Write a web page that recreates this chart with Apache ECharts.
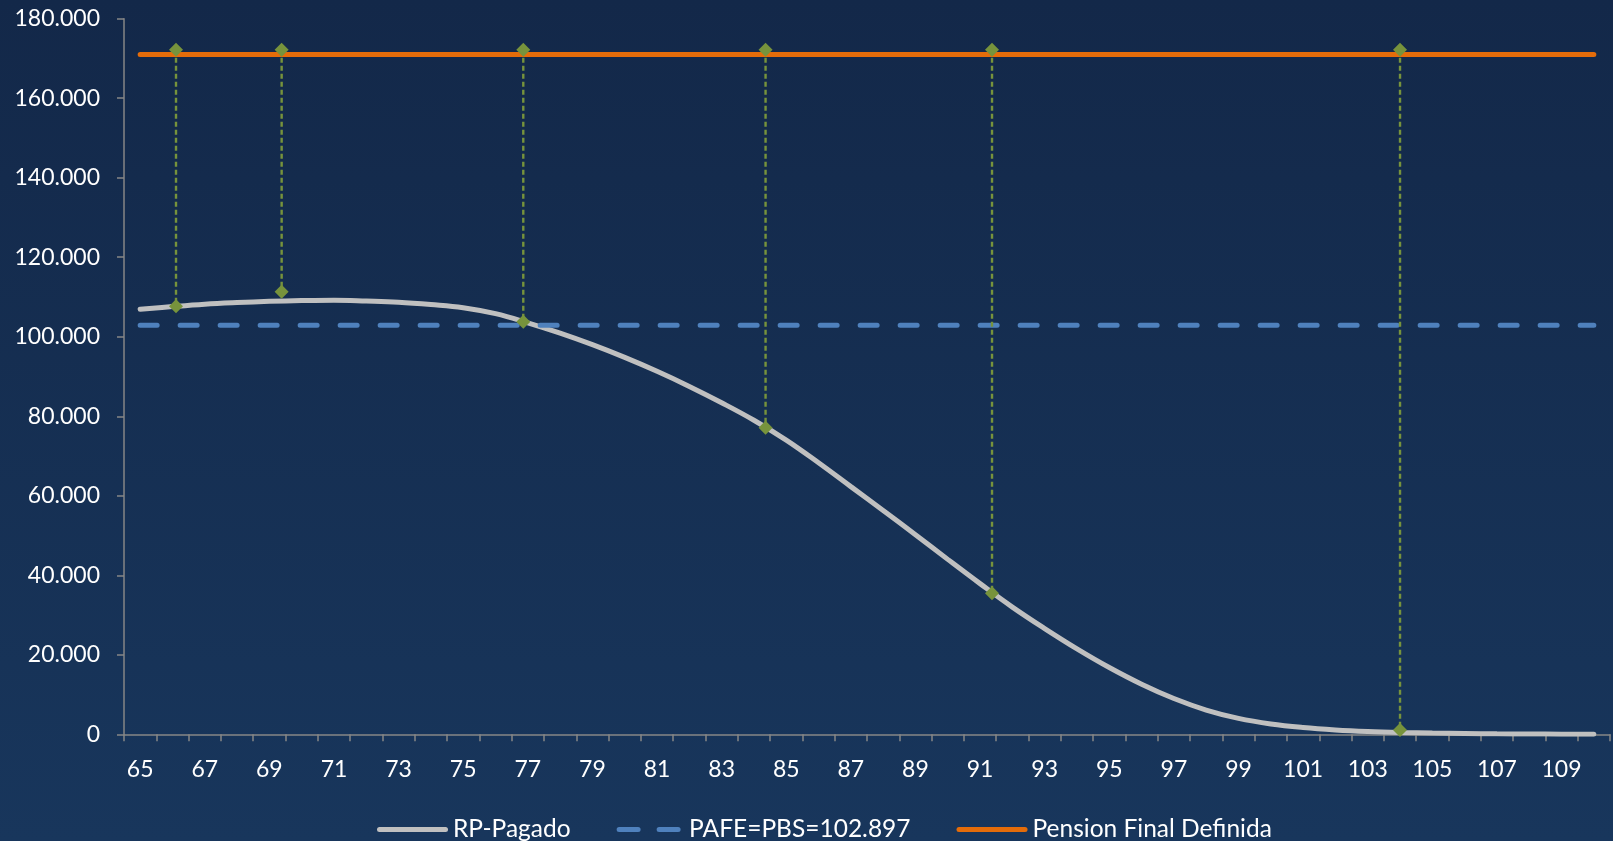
<!DOCTYPE html>
<html>
<head>
<meta charset="utf-8">
<script src="https://cdn.jsdelivr.net/npm/echarts@6/dist/echarts.min.js"></script>
<style>
  html, body { margin: 0; padding: 0; background: #14294b; }
  #chart { width: 1613px; height: 841px; }
</style>
</head>
<body>
<div id="chart"></div>
<script>
// Ages (category axis)
const ages = ['65','66','67','68','69','70','71','72','73','74','75','76','77','78','79','80',
  '81','82','83','84','85','86','87','88','89','90','91','92','93','94','95','96','97','98',
  '99','100','101','102','103','104','105','106','107','108','109','110'];

// RP-Pagado curve, one value per age
const rpPagado = [106900,107600,108200,108600,108900,109100,109200,109000,108700,108100,
  107300,105800,103500,100900,98000,94800,91300,87500,83400,79000,74000,68300,62300,56300,
  50200,44000,37900,32000,26600,21500,16800,12600,9000,6100,4000,2600,1700,1100,700,450,
  300,200,120,70,40,20];

// Flat reference levels
const pafeValue = 102897;
const pensionFinal = 171000;

// Marker drop lines: age position, top value, bottom value
const markerAges = [66.11, 69.38, 76.86, 84.36, 91.37, 104.0];
const markerTop = [172200, 172200, 172200, 172200, 172200, 172200];
const markerBottom = [107700, 111300, 103800, 77100, 35500, 1100];

// Y axis range
const yMin = 0, yMax = 180000, yStep = 20000;

function fmtThousands(v) {
  return String(Math.round(v)).replace(/\B(?=(\d{3})+(?!\d))/g, '.');
}

const FONT = 'Lato, "Open Sans", "Noto Sans", sans-serif';
const GREEN = '#77933c';

// Legend icons: solid bar and a two-dash bar
const ICON_SOLID = 'path://M2.5,0H68.5A2.5,2.5,0,0,1,68.5,5H2.5A2.5,2.5,0,0,1,2.5,0Z';
const ICON_DASH = 'path://M2.5,0H21.5A2.5,2.5,0,0,1,21.5,5H2.5A2.5,2.5,0,0,1,2.5,0Z' +
  'M42.5,0H61.5A2.5,2.5,0,0,1,61.5,5H42.5A2.5,2.5,0,0,1,42.5,0Z';

const markerSeries = markerAges.map((x, i) => ({
  name: 'marker' + i,
  type: 'line',
  xAxisIndex: 1,
  yAxisIndex: 0,
  data: [[x, markerTop[i]], [x, markerBottom[i]]],
  symbol: 'diamond',
  symbolSize: 14,
  showSymbol: true,
  itemStyle: { color: GREEN },
  lineStyle: { color: GREEN, width: 2.4, type: [5, 3] },
  z: 10,
  silent: true,
  animation: false
}));

const chart = echarts.init(document.getElementById('chart'), null, { renderer: 'canvas' });

chart.setOption({
  animation: false,
  backgroundColor: {
    type: 'linear', x: 0, y: 0, x2: 0, y2: 1,
    colorStops: [
      { offset: 0, color: '#132849' },
      { offset: 1, color: '#18365c' }
    ]
  },
  grid: { left: 124, right: 3, top: 18.7, bottom: 106.7, containLabel: false },
  legend: {
    data: [
      { name: 'RP-Pagado', icon: ICON_SOLID, itemStyle: { color: '#c0c0c0' } },
      { name: 'PAFE=PBS=102.897', icon: ICON_DASH, itemStyle: { color: '#4f81bd' } },
      { name: 'Pension Final Definida', icon: ICON_SOLID, itemStyle: { color: '#e46c0a' } }
    ],
    left: 372,
    top: 812,
    itemWidth: 71,
    itemHeight: 5,
    itemGap: 46,
    textStyle: { color: '#ffffff', fontSize: 24.5, fontFamily: FONT }
  },
  xAxis: [
    {
      type: 'category',
      data: ages,
      boundaryGap: true,
      axisLine: { show: true, lineStyle: { color: '#868686', width: 1.5 } },
      axisTick: { show: true, inside: false, length: 7, alignWithLabel: false, interval: 0,
        lineStyle: { color: '#868686', width: 1.5 } },
      axisLabel: { interval: 1, color: '#ffffff', fontSize: 23, fontFamily: FONT, margin: 24 },
      splitLine: { show: false }
    },
    {
      type: 'value',
      min: 64.5,
      max: 110.5,
      show: false
    }
  ],
  yAxis: {
    type: 'value',
    min: yMin,
    max: yMax,
    interval: yStep,
    axisLine: { show: true, lineStyle: { color: '#868686', width: 1.5 } },
    axisTick: { show: true, inside: false, length: 7, lineStyle: { color: '#868686', width: 1.5 } },
    axisLabel: { color: '#ffffff', fontSize: 23, fontFamily: FONT, margin: 24,
      formatter: v => fmtThousands(v) },
    splitLine: { show: false }
  },
  series: [
    {
      name: 'RP-Pagado',
      type: 'line',
      data: rpPagado,
      smooth: 0.4,
      symbol: 'none',
      lineStyle: { color: '#c0c0c0', width: 5, cap: 'round' },
      itemStyle: { color: '#c0c0c0' },
      z: 3
    },
    {
      name: 'PAFE=PBS=102.897',
      type: 'line',
      data: ages.map(() => pafeValue),
      symbol: 'none',
      lineStyle: { color: '#4f81bd', width: 5, type: [17, 23], cap: 'round' },
      itemStyle: { color: '#4f81bd' },
      z: 4
    },
    {
      name: 'Pension Final Definida',
      type: 'line',
      data: ages.map(() => pensionFinal),
      symbol: 'none',
      lineStyle: { color: '#e46c0a', width: 5, cap: 'round' },
      itemStyle: { color: '#e46c0a' },
      z: 5
    },
    ...markerSeries
  ]
});
</script>
</body>
</html>
